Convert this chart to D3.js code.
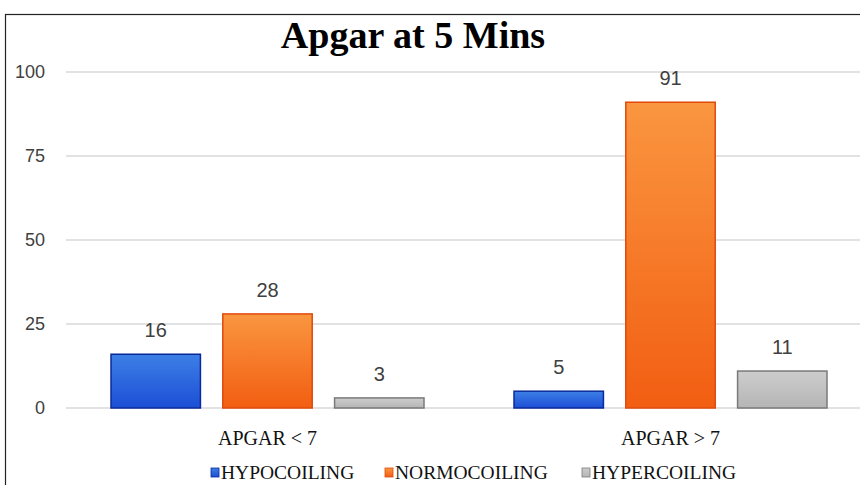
<!DOCTYPE html>
<html>
<head>
<meta charset="utf-8">
<script src="https://cdn.jsdelivr.net/npm/d3@7/dist/d3.min.js"></script>
<style>
  html, body { margin: 0; padding: 0; background: #fff; }
  svg { display: block; }
</style>
</head>
<body>
<svg id="chart" width="860" height="485"></svg>
<script>
const title = "Apgar at 5 Mins";
const categories = ["APGAR < 7", "APGAR > 7"];
const seriesNames = ["HYPOCOILING", "NORMOCOILING", "HYPERCOILING"];
const hypocoiling = [16, 5];
const normocoiling = [28, 91];
const hypercoiling = [3, 11];
const yTicks = [0, 25, 50, 75, 100];

const seriesValues = [hypocoiling, normocoiling, hypercoiling];
const colors = [
  { top: "#3d7fe6", bottom: "#1c4fd6", stroke: "#0b2a9a" },
  { top: "#fa9640", bottom: "#f25e12", stroke: "#e04a0a" },
  { top: "#cdcdcd", bottom: "#b5b5b5", stroke: "#7a7a7a" }
];

const svg = d3.select("#chart");
const W = 860, H = 485;
const plot = { left: 66, right: 872, top: 72, bottom: 408 };
const sans = "'Liberation Sans', Arial, 'DejaVu Sans', sans-serif";
const serif = "'Liberation Serif', 'Times New Roman', serif";

// border
svg.append("rect").attr("x", 5.5).attr("y", 14.5).attr("width", 900).attr("height", 500)
  .attr("fill", "#fff").attr("stroke", "#222").attr("stroke-width", 1.2);

// gradients
const defs = svg.append("defs");
colors.forEach((c, i) => {
  const g = defs.append("linearGradient").attr("id", "g" + i)
    .attr("x1", 0).attr("y1", 0).attr("x2", 0).attr("y2", 1);
  g.append("stop").attr("offset", "0%").attr("stop-color", c.top);
  g.append("stop").attr("offset", "100%").attr("stop-color", c.bottom);
});

const y = d3.scaleLinear().domain([0, 100]).range([plot.bottom, plot.top]);
const x0 = d3.scaleBand().domain(categories).range([plot.left, plot.right]).paddingInner(0).paddingOuter(0);
const x1 = d3.scaleBand().domain(seriesNames).range([45, x0.bandwidth() - 45]).paddingInner(0.2).paddingOuter(0);

// gridlines
svg.append("g").selectAll("line").data(yTicks).join("line")
  .attr("x1", plot.left).attr("x2", W)
  .attr("y1", d => y(d)).attr("y2", d => y(d))
  .attr("stroke", "#d9d9d9").attr("stroke-width", 1.6);

// y axis labels
const yAxis = d3.axisLeft(y).tickValues(yTicks).tickSize(0).tickPadding(0);
const ya = svg.append("g").attr("transform", "translate(45,0)").call(yAxis);
ya.select(".domain").remove();
ya.selectAll("text").attr("font-family", sans)
  .attr("font-size", 18).attr("fill", "#404040");

// bars
const groups = svg.append("g").selectAll("g").data(categories).join("g")
  .attr("transform", d => `translate(${x0(d)},0)`);
groups.each(function(cat, ci) {
  const g = d3.select(this);
  seriesNames.forEach((s, si) => {
    const v = seriesValues[si][ci];
    g.append("rect")
      .attr("x", x1(s)).attr("y", y(v))
      .attr("width", x1.bandwidth()).attr("height", y(0) - y(v))
      .attr("fill", `url(#g${si})`)
      .attr("stroke", colors[si].stroke).attr("stroke-width", 1.5);
    g.append("text")
      .attr("x", x1(s) + x1.bandwidth() / 2).attr("y", y(v) - 17)
      .attr("text-anchor", "middle")
      .attr("font-family", sans)
      .attr("font-size", 20).attr("fill", "#404040")
      .text(v);
  });
});

// category labels
const xAxis = d3.axisBottom(x0).tickSize(0).tickPadding(0);
const xa = svg.append("g").attr("transform", `translate(0,${plot.bottom + 37})`).call(xAxis);
xa.select(".domain").remove();
xa.selectAll("text").attr("dy", 0)
  .attr("font-family", serif)
  .attr("font-size", 20).attr("fill", "#111");

// title
svg.append("text").attr("x", 413).attr("y", 48).attr("text-anchor", "middle")
  .attr("font-family", serif)
  .attr("font-weight", "bold").attr("font-size", 38).attr("fill", "#000")
  .text(title);

// legend
const legendX = [211, 385, 582];
const lg = svg.append("g").selectAll("g").data(seriesNames).join("g")
  .attr("transform", (d, i) => `translate(${legendX[i]},472)`);
lg.append("rect").attr("x", 0).attr("y", -4).attr("width", 8).attr("height", 9)
  .attr("fill", (d, i) => `url(#g${i})`)
  .attr("stroke", (d, i) => colors[i].stroke).attr("stroke-width", 0.8);
lg.append("text").attr("x", 10).attr("y", 6.5)
  .attr("font-family", serif)
  .attr("font-size", 19.5).attr("fill", "#111")
  .text(d => d);
</script>
</body>
</html>
